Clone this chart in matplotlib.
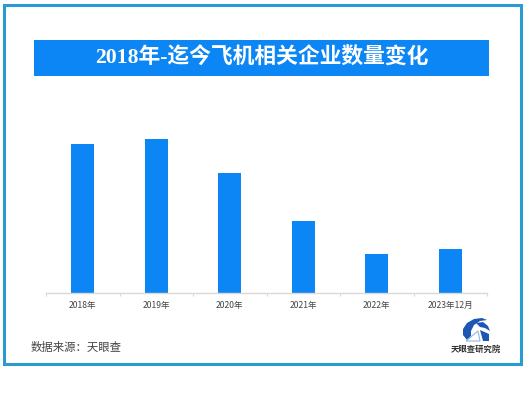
import matplotlib
matplotlib.use('Agg')
import matplotlib.pyplot as plt
from matplotlib.patches import Rectangle, Polygon

plt.rcParams['font.family'] = ['Noto Sans CJK SC', 'DejaVu Sans']

W, H = 526, 394

years = ['2018年', '2019年', '2020年', '2021年', '2022年', '2023年12月']
# no value axis in the picture, so bar heights are read in pixels
counts = [149, 154, 120, 72, 39, 44]

fig = plt.figure(figsize=(W / 100, H / 100), dpi=100, facecolor='white')

# overlay in pixel coordinates for the frame, title band and logo
bg = fig.add_axes([0, 0, 1, 1])
bg.set_xlim(0, W)
bg.set_ylim(H, 0)
bg.axis('off')
bg.add_patch(Rectangle((3.5, 4.5), 517, 359, fc='white', ec='#2b9ad2', lw=2.2))
bg.add_patch(Rectangle((34, 40), 455, 36, fc='#0d86f5', ec='none'))
bg.text(262, 58, '2018年-迄今飞机相关企业数量变化', color='white', fontsize=15.7,
        fontweight='bold', ha='center', va='center',
        family=['Liberation Serif', 'Noto Sans CJK SC'])
bg.text(31, 347, '数据来源：天眼查', color='#444444', fontsize=8.2, ha='left', va='center')
bg.text(476, 349.5, '天眼查研究院', color='#333333', fontsize=6.0, fontweight='bold',
        ha='center', va='center')

# logo
bg.add_patch(Polygon([(467, 340), (463, 335), (463, 329), (467, 323), (474, 319), (482, 318),
                      (487, 320), (480, 321), (474, 325), (471, 331), (471, 336)],
                     fc='#1d57b5', ec='none'))
bg.add_patch(Polygon([(476, 323), (483, 322), (488, 326), (490, 331), (485, 328), (480, 327)],
                     fc='#1d57b5', ec='none'))
bg.add_patch(Polygon([(466, 341), (478, 331), (480, 341)], fc='none', ec='#8fb8dc', lw=0.8))
bg.add_patch(Polygon([(480, 330), (489, 334), (489, 341), (483, 341)], fc='#1d57b5', ec='none'))

# chart
left, right, top, bottom = 46, 487, 110, 293
ax = fig.add_axes([left / W, 1 - bottom / H, (right - left) / W, (bottom - top) / H])
ax.patch.set_alpha(0)
x = range(len(years))
ax.bar(x, counts, width=0.31, color='#0d86f5')
ax.set_xlim(-0.5, 5.5)
ax.set_ylim(0, bottom - top)
ax.set_yticks([])
ax.set_xticks(x)
ax.set_xticklabels(years, fontsize=6.2, color='#444444')
ax.tick_params(axis='x', length=0, pad=6)
# separators sit between the categories
ax.set_xticks([i - 0.5 for i in range(7)], minor=True)
ax.tick_params(axis='x', which='minor', length=2, color='#d9d9d9', width=0.8)
for s in ['top', 'left', 'right']:
    ax.spines[s].set_visible(False)
ax.spines['bottom'].set_color('#d9d9d9')
ax.spines['bottom'].set_linewidth(1)

fig.savefig('out.png', dpi=100)
